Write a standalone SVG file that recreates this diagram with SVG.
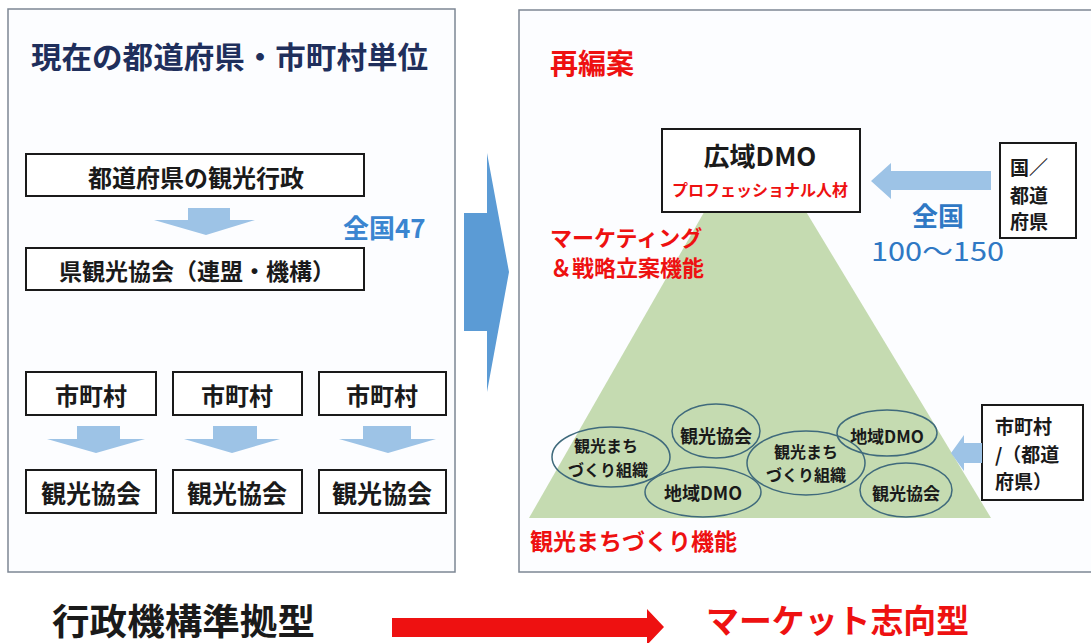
<svg xmlns="http://www.w3.org/2000/svg" width="1091" height="643" viewBox="0 0 1091 643">
<style>
text{font-family:"Noto Sans CJK JP","Noto Sans",sans-serif;font-weight:700;dominant-baseline:central}
.c{text-anchor:middle}
.box{fill:#fff;stroke:#1a1a1a;stroke-width:2}
.panel{fill:#fcfdff;stroke:#7d8794;stroke-width:1.5}
.ell{fill:none;stroke:#3f6a7c;stroke-width:1.5}
.lb{fill:#9dc3e6}
.red{fill:#ee1111}
.blue{fill:#2f78c4}
.k{fill:#1a1a1a}
</style>
<rect width="1091" height="643" fill="#fff"/>

<g id="left-panel">
<rect class="panel" x="8" y="9" width="447" height="563"/>
<text x="31" y="55" font-size="30" fill="#1f2f5c" textLength="397" lengthAdjust="spacingAndGlyphs">現在の都道府県・市町村単位</text>
</g>

<g id="pref-admin"><rect class="box" x="26" y="154" width="338" height="42"/><text class="c k" x="196" y="176" font-size="24">都道府県の観光行政</text></g>
<g id="pref-assoc"><rect class="box" x="26" y="248" width="338" height="42"/><text class="c k" x="197" y="270" font-size="23">県観光協会（連盟・機構）</text></g>
<g id="zenkoku47"><text x="343" y="226" font-size="26" fill="#3a85d0">全国47</text></g>

<g id="muni1"><rect class="box" x="26" y="372" width="130" height="43"/><text class="c k" x="91" y="394" font-size="24">市町村</text></g>
<g id="muni2"><rect class="box" x="173" y="372" width="129" height="43"/><text class="c k" x="237" y="394" font-size="24">市町村</text></g>
<g id="muni3"><rect class="box" x="319" y="372" width="127" height="43"/><text class="c k" x="382" y="394" font-size="24">市町村</text></g>
<g id="assoc1"><rect class="box" x="26" y="470" width="130" height="43"/><text class="c k" x="91" y="492" font-size="25">観光協会</text></g>
<g id="assoc2"><rect class="box" x="173" y="470" width="129" height="43"/><text class="c k" x="237" y="492" font-size="25">観光協会</text></g>
<g id="assoc3"><rect class="box" x="319" y="470" width="127" height="43"/><text class="c k" x="382" y="492" font-size="25">観光協会</text></g>

<g id="right-panel">
<rect class="panel" x="519" y="10" width="580" height="562"/>
<text class="red" x="550" y="62" font-size="28">再編案</text>
</g>

<g id="pyramid">
<polygon points="529,518 991,518 799,200 711,200" fill="#c5dbb1"/>
</g>

<g id="marketing-label"><text class="red" x="550" y="236" font-size="22">マーケティング</text><text class="red" x="550" y="266" font-size="22">＆戦略立案機能</text></g>
<g id="machizukuri-label"><text class="red" x="530" y="540" font-size="23">観光まちづくり機能</text></g>

<g id="koiki-dmo"><rect class="box" x="662" y="129" width="198" height="83"/><text class="c k" x="760" y="154" font-size="26">広域DMO</text><text class="c red" x="760" y="189" font-size="16">プロフェッショナル人材</text></g>

<g id="kuni"><rect class="box" x="1000" y="143" width="76" height="95"/><text class="k" x="1010" y="166" font-size="19">国／</text><text class="k" x="1010" y="194" font-size="19">都道</text><text class="k" x="1010" y="220" font-size="19">府県</text></g>

<g id="zenkoku-150"><text class="c blue" x="938" y="214" font-size="26">全国</text><text x="871" y="249" font-size="26" fill="#2f78c4" style="font-weight:400" textLength="133" lengthAdjust="spacingAndGlyphs">100～150</text></g>

<g id="muni-pref"><rect class="box" x="982" y="405" width="101" height="95"/><text class="k" x="995" y="425" font-size="19">市町村</text><text class="k" x="995" y="453" font-size="19">/（都道</text><text class="k" x="995" y="480" font-size="19">府県）</text></g>

<g id="e1"><ellipse class="ell" cx="611" cy="457" rx="59" ry="30"/><text class="c k" x="606" y="445" font-size="16">観光まち</text><text class="c k" x="608" y="469" font-size="16">づくり組織</text></g>
<g id="e2"><ellipse class="ell" cx="716" cy="431" rx="44" ry="27"/><text class="c k" x="716" y="435" font-size="18">観光協会</text></g>
<g id="e3"><ellipse class="ell" cx="703" cy="492" rx="58" ry="25"/><text class="c k" x="703" y="492" font-size="18">地域DMO</text></g>
<g id="e4"><ellipse class="ell" cx="806" cy="463" rx="59" ry="32"/><text class="c k" x="806" y="451" font-size="16">観光まち</text><text class="c k" x="806" y="474" font-size="16">づくり組織</text></g>
<g id="e5"><ellipse class="ell" cx="887" cy="433" rx="50" ry="23"/><text class="c k" x="887" y="435" font-size="17">地域DMO</text></g>
<g id="e6"><ellipse class="ell" cx="906" cy="490" rx="46" ry="27"/><text class="c k" x="906" y="492" font-size="17">観光協会</text></g>

<g id="connectors">
<polygon class="lb" points="188,208 230,208 230,220 255,220 206,235 154,220 188,220"/>
<polygon class="lb" points="77,426 120,426 120,439 145,439 96,453 47,439 77,439"/>
<polygon class="lb" points="213,426 257,426 257,439 280,439 232,453 184,439 213,439"/>
<polygon class="lb" points="363,426 411,426 411,439 436,439 388,453 339,439 363,439"/>
<polygon points="464,213 487,213 487,153 509,272 487,392 487,331 464,331" fill="#5b9bd5"/>
<polygon class="lb" points="991,171 891,171 891,163 871,181 891,199 891,190 991,190"/>
<polygon class="lb" points="982,443 964,443 964,435 951,453 964,471 964,463 982,463"/>
<polygon class="red" points="392,618 647,618 647,609 664,627 647,645 647,637 392,637"/>
</g>

<g id="bottom-labels">
<text class="k" x="52" y="619" font-size="36" textLength="263" lengthAdjust="spacingAndGlyphs">行政機構準拠型</text>
<text class="red" x="706" y="619" font-size="33" textLength="263" lengthAdjust="spacingAndGlyphs">マーケット志向型</text>
</g>
</svg>
